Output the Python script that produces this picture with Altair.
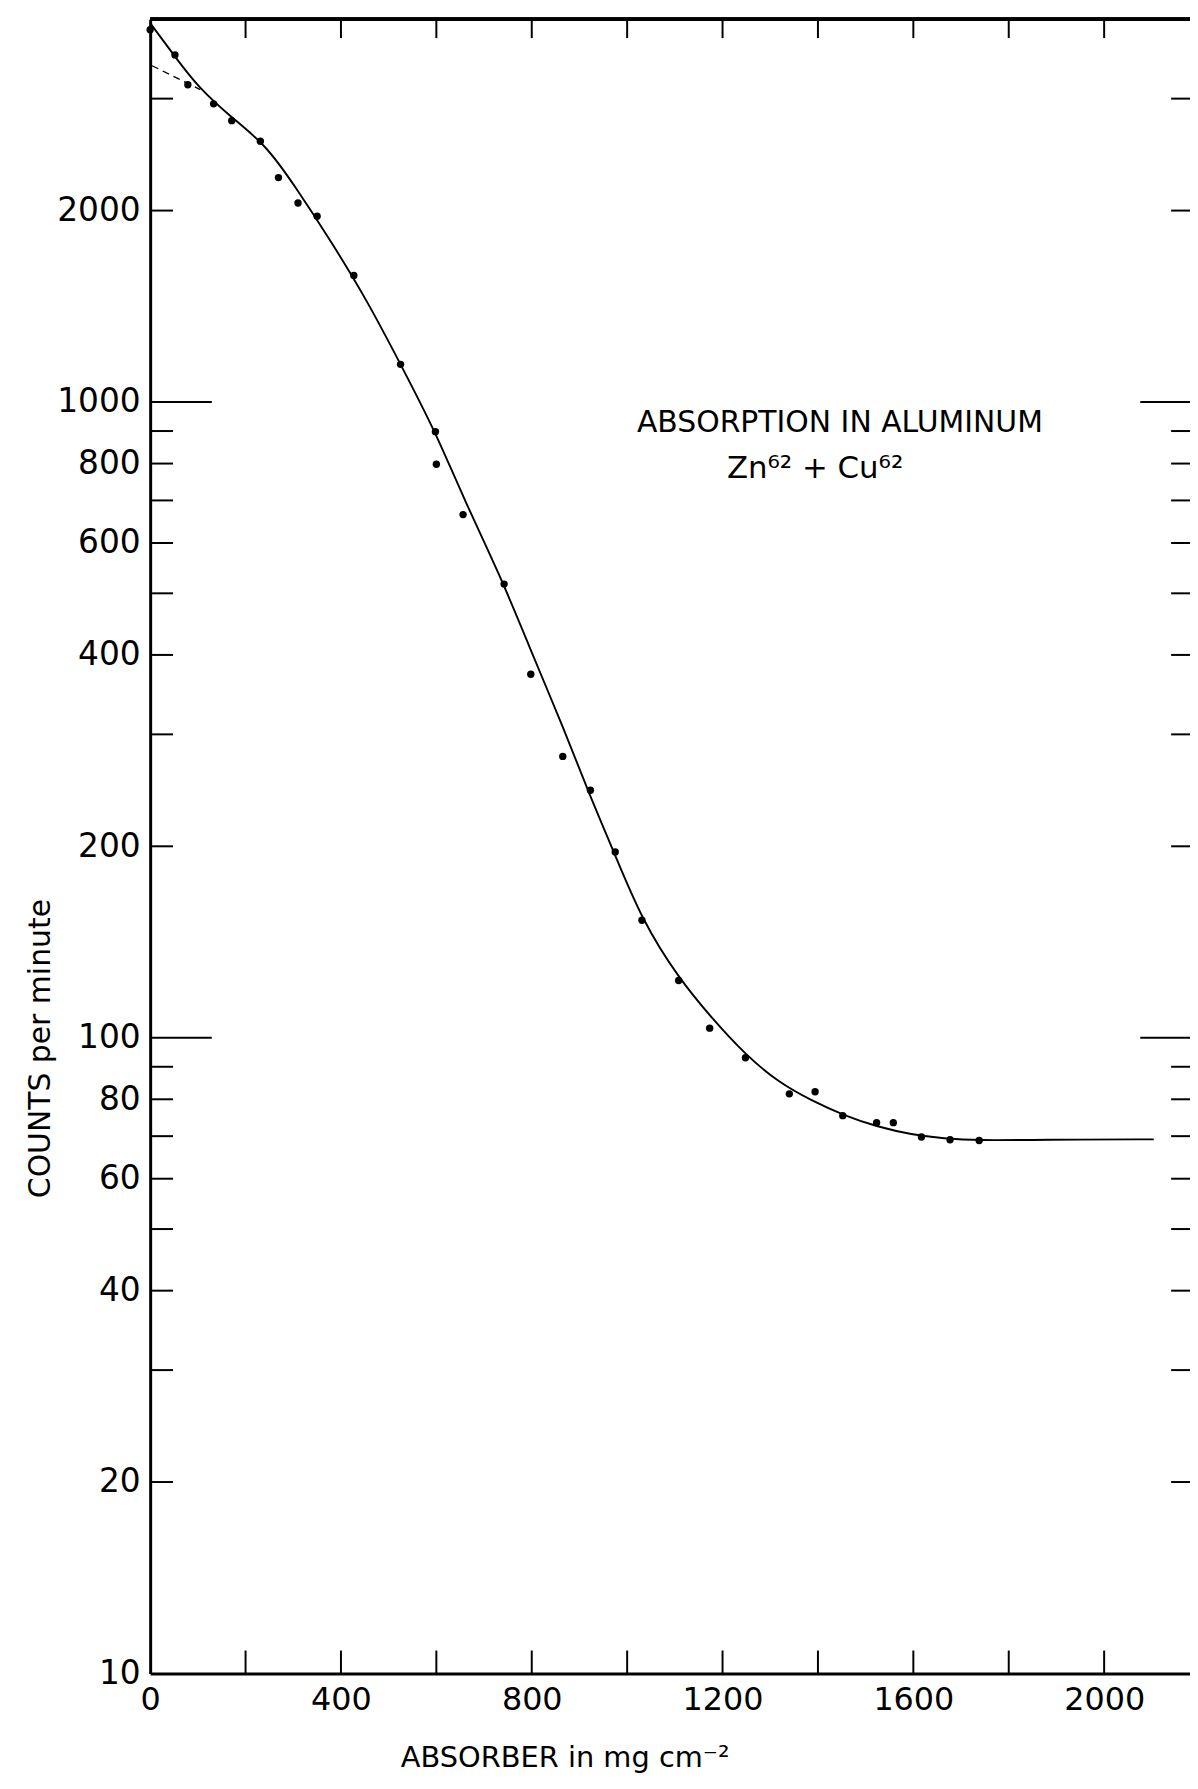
import altair as alt
import pandas as pd

absorber = [0, 52, 79, 133, 171, 231, 269, 310, 350, 427, 525, 598, 600, 656, 742,
            798, 865, 923, 975, 1031, 1108, 1173, 1248, 1340, 1394, 1452, 1523,
            1558, 1617, 1677, 1738]
counts = [3850, 3515, 3155, 2944, 2770, 2571, 2254, 2056, 1960, 1581, 1146, 898, 798,
          665, 517, 373, 277, 245, 196, 153, 123, 103.5, 93, 81.6, 82.2, 75.4, 73.5,
          73.5, 69.8, 69.1, 68.9]

curve_x = [0, 54, 102, 171, 242, 304, 379, 456, 525, 598, 656, 742, 798, 866, 921,
           971, 1031, 1108, 1179, 1248, 1317, 1387, 1456, 1525, 1596, 1665, 1733,
           1873, 2104]
curve_y = [3945, 3477, 3118, 2799, 2541, 2183, 1791, 1439, 1146, 898, 708, 517, 406,
           308, 241, 197, 153, 124, 107, 94, 85.1, 79.6, 75.4, 72.4, 70.4, 69.4,
           68.9, 69.1, 69.2]

dash_x = [4, 105]
dash_y = [3380, 3100]

x_label_values = [0, 400, 800, 1200, 1600, 2000]
x_tick_values = [200, 400, 600, 800, 1000, 1200, 1400, 1600, 1800, 2000]
y_label_values = [10, 20, 40, 60, 80, 100, 200, 400, 600, 800, 1000, 2000]
y_minor_ticks = [20, 30, 40, 50, 60, 70, 80, 90, 200, 300, 400, 500, 600, 700, 800,
                 900, 2000, 3000]
y_major_ticks = [100, 1000]

note_x = [1446, 1394]
note_y = [898, 760]
note_text = ["ABSORPTION IN ALUMINUM", "Zn\u2076\u00b2 + Cu\u2076\u00b2"]

X_TITLE = "ABSORBER  in mg cm\u207b\u00b2"
Y_TITLE = "COUNTS per minute"

# ---- layout ----
W, H = 1046, 1664
FONT = "DejaVu Sans"

xs = alt.Scale(domain=[0, 2180], nice=False, zero=False)
ys = alt.Scale(type="log", domain=[10, 4000], nice=False)

pts = pd.DataFrame({"absorber": absorber, "counts": counts})
crv = pd.DataFrame({"absorber": curve_x, "counts": curve_y})
dsh = pd.DataFrame({"absorber": dash_x, "counts": dash_y})
xt = pd.DataFrame({"v": x_tick_values})
ymin = pd.DataFrame({"v": y_minor_ticks})
ymaj = pd.DataFrame({"v": y_major_ticks})
notes = pd.DataFrame({"x": note_x, "y": note_y, "t": note_text})

x_axis = alt.Axis(values=x_label_values, format="d", ticks=False, tickSize=0,
                  grid=False, domain=True, domainColor="black", domainWidth=3,
                  labelFont=FONT, labelFontSize=32, labelColor="black",
                  labelPadding=11, labelFlush=False, labelOverlap=False,
                  title=X_TITLE, titleFont=FONT, titleFontSize=29,
                  titleFontWeight="normal", titleColor="black",
                  titleX=417, titleY=94, titleAlign="center",
                  titleBaseline="alphabetic")
y_axis = alt.Axis(values=y_label_values, format="d", ticks=False, tickSize=0,
                  grid=False, domain=True, domainColor="black", domainWidth=3,
                  labelFont=FONT, labelFontSize=33, labelColor="black",
                  labelPadding=10, labelOverlap=False, labelFlush=False,
                  title=Y_TITLE, titleFont=FONT, titleFontSize=30,
                  titleFontWeight="normal", titleColor="black",
                  titleX=-110, titleY=1035, titleAngle=270,
                  titleAlign="center", titleBaseline="middle")

points = alt.Chart(pts).mark_circle(size=55, color="black", opacity=1).encode(
    x=alt.X("absorber:Q", scale=xs, axis=x_axis),
    y=alt.Y("counts:Q", scale=ys, axis=y_axis),
)

curve = alt.Chart(crv).mark_line(color="black", strokeWidth=1.9,
                                 interpolate="basis").encode(
    x=alt.X("absorber:Q", scale=xs),
    y=alt.Y("counts:Q", scale=ys),
)

dashed = alt.Chart(dsh).mark_line(color="black", strokeWidth=1.3,
                                  strokeDash=[7, 5]).encode(
    x=alt.X("absorber:Q", scale=xs),
    y=alt.Y("counts:Q", scale=ys),
)

# inward ticks (left, right, top, bottom)
left_minor = alt.Chart(ymin).mark_rule(color="black", strokeWidth=2).encode(
    y=alt.Y("v:Q", scale=ys), x=alt.value(0), x2=alt.value(23))
left_major = alt.Chart(ymaj).mark_rule(color="black", strokeWidth=2).encode(
    y=alt.Y("v:Q", scale=ys), x=alt.value(0), x2=alt.value(62))
right_minor = alt.Chart(ymin).mark_rule(color="black", strokeWidth=2).encode(
    y=alt.Y("v:Q", scale=ys), x=alt.value(W), x2=alt.value(W - 19))
right_major = alt.Chart(ymaj).mark_rule(color="black", strokeWidth=2).encode(
    y=alt.Y("v:Q", scale=ys), x=alt.value(W), x2=alt.value(W - 50))
top_ticks = alt.Chart(xt).mark_rule(color="black", strokeWidth=2).encode(
    x=alt.X("v:Q", scale=xs), y=alt.value(0), y2=alt.value(19))
bottom_ticks = alt.Chart(xt).mark_rule(color="black", strokeWidth=2).encode(
    x=alt.X("v:Q", scale=xs), y=alt.value(H), y2=alt.value(H - 23))
top_line = alt.Chart(xt).mark_rule(color="black", strokeWidth=3).encode(
    x=alt.value(0), x2=alt.value(W), y=alt.value(0))

note1 = alt.Chart(notes.iloc[[0]]).mark_text(
    font=FONT, fontSize=30, color="black", align="center", baseline="alphabetic"
).encode(x=alt.X("x:Q", scale=xs), y=alt.Y("y:Q", scale=ys), text="t:N")
note2 = alt.Chart(notes.iloc[[1]]).mark_text(
    font=FONT, fontSize=31, color="black", align="center", baseline="alphabetic"
).encode(x=alt.X("x:Q", scale=xs), y=alt.Y("y:Q", scale=ys), text="t:N")

chart = alt.layer(
    points, curve, dashed, left_minor, left_major, right_minor, right_major,
    top_ticks, bottom_ticks, top_line, note1, note2
).properties(
    width=W, height=H,
    autosize=alt.AutoSizeParams(type="none"),
    padding={"left": 143, "top": 6, "right": 0, "bottom": 110},
    background="white",
).configure_view(stroke=None)

chart.save("out.html", embed_options={"renderer": "svg", "actions": False})
